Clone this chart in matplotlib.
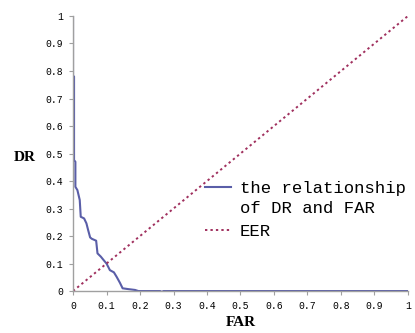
import numpy as np
import matplotlib.pyplot as plt

# DR vs FAR curve
far = [0.0, 0.0, 0.003, 0.003, 0.007, 0.007, 0.013, 0.02, 0.023, 0.033,
       0.04, 0.045, 0.051, 0.056, 0.069, 0.073, 0.083, 0.093, 0.1, 0.11,
       0.122, 0.13, 0.14, 0.148, 0.165, 0.185, 0.195, 0.26, 0.265, 0.27, 1.0]
dr = [1.0, 0.78, 0.78, 0.476, 0.47, 0.379, 0.367, 0.331, 0.27, 0.264,
      0.246, 0.222, 0.195, 0.19, 0.183, 0.137, 0.125, 0.11, 0.1, 0.076,
      0.068, 0.052, 0.03, 0.01, 0.007, 0.004, 0.0, 0.0, -0.003, 0.0, 0.0]
eer_x = [0.0, 1.0]
eer_y = [0.0, 1.0]
ticks = np.arange(0, 11) / 10
tick_labels = ["0"] + ["0.%d" % i for i in range(1, 10)] + ["1"]


def main():
    fig = plt.figure(figsize=(4.15, 3.33), dpi=100)
    ax = fig.add_axes([0.176, 0.126, 0.807, 0.826])

    l1, = ax.plot(far, dr, color="#5a5ea8", linewidth=1.5)
    l2, = ax.plot(eer_x, eer_y, color="#a0305e", linewidth=1.4, linestyle=(0, (1.2, 1.6)))

    ax.set_xlim(0, 1)
    ax.set_ylim(0, 1)
    for s in ["top", "right"]:
        ax.spines[s].set_visible(False)
    for s in ["left", "bottom"]:
        ax.spines[s].set_color("#a0a0a0")
        ax.spines[s].set_linewidth(1.0)
    ax.set_xticks(ticks)
    ax.set_xticklabels(tick_labels, family="Liberation Mono", fontsize=7)
    ax.set_yticks(ticks)
    ax.set_yticklabels(tick_labels, family="Liberation Mono", fontsize=7)
    ax.tick_params(length=3, color="#a0a0a0", pad=4)

    ax.set_xlabel("FAR", family="Liberation Serif", fontweight="bold", fontsize=11, labelpad=4)
    ax.set_ylabel("DR", family="Liberation Serif", fontweight="bold", fontsize=11,
                  rotation=0, ha="center", va="center")
    ax.yaxis.set_label_coords(-0.143, 0.484)

    leg = fig.legend([l1, l2], ["the relationship\nof DR and FAR", "EER"],
                     loc="upper left", bbox_to_anchor=(0.478, 0.478),
                     prop={"family": "Liberation Mono", "size": 12.4},
                     frameon=False, handlelength=1.5, handletextpad=0.5,
                     labelspacing=0.5, borderaxespad=0)
    for t in leg.get_texts():
        t.set_linespacing(1.4)
    for col in leg._legend_handle_box.get_children():
        for hp in col.get_children():
            hp.align = "top"

    fig.savefig("out.png", dpi=100)
    plt.close(fig)


if __name__ == "__main__":
    main()
